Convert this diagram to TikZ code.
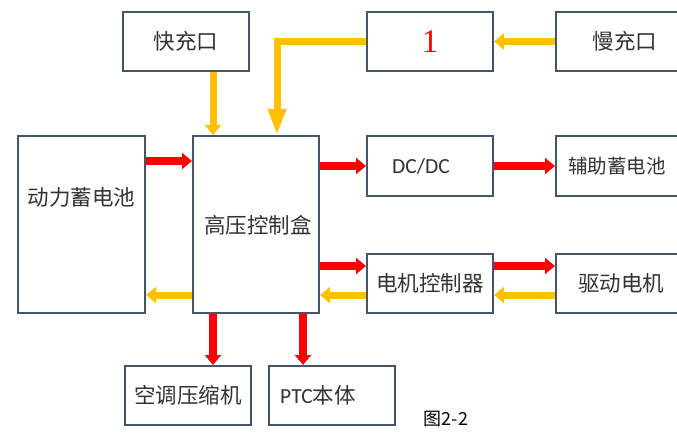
\documentclass[tikz,border=0pt]{standalone}
\usepackage{fontspec}
\setmainfont{Noto Sans CJK SC}
\newfontfamily\carl{Carlito}
\newfontfamily\lserif{Liberation Serif}
\usetikzlibrary{arrows.meta}
\definecolor{boxline}{HTML}{44546A}
\definecolor{txt}{HTML}{333333}
\definecolor{yel}{HTML}{FFC000}
\definecolor{rd}{HTML}{FF0000}
\tikzset{
  blk/.style={draw=boxline, line width=2pt, fill=white, text=txt, inner sep=0pt,
    font=\fontsize{21.5}{24}\selectfont, minimum height=59pt},
  lbl/.style={text=txt, inner sep=0pt, font=\fontsize{21.5}{24}\selectfont},
  redarr/.style={draw=rd, line width=7.5pt, -{Triangle[length=10pt,width=16pt]}},
  yelarr/.style={draw=yel, line width=7pt, -{Triangle[length=10pt,width=16pt]}},
}
\begin{document}
\begin{tikzpicture}[x=1pt,y=-1pt]
\useasboundingbox[fill=white] (0,0) rectangle (677,433);
% boxes
\node[blk, minimum width=126pt] (kc) at (186,41.5) {快充口};
\node[blk, minimum width=126pt, text=rd, font=\lserif\fontsize{33}{34}\selectfont] (one) at (430,41.5) {1};
\node[blk, minimum width=140pt] (mc) at (626,41.5) {};
\node[lbl] (mct) at (625,41.5) {慢充口};
\node[blk, minimum width=127pt, minimum height=177pt] (bat) at (81.5,224.5) {};
\node[lbl] (batt) at (81.5,197) {动力蓄电池};
\node[blk, minimum width=126pt, minimum height=177pt] (hv) at (256,224.5) {};
\node[lbl] (hvt) at (258,225) {高压控制盒};
\node[blk, minimum width=126pt, minimum height=60pt] (dc) at (430,166) {};
\node[lbl, font=\carl\fontsize{21.5}{24}\selectfont] (dct) at (421,166) {DC/DC};
\node[blk, minimum width=140pt, minimum height=60pt] (aux) at (626,166) {};
\node[lbl, font=\fontsize{19.5}{22}\selectfont] (auxt) at (617,166) {辅助蓄电池};
\node[blk, minimum width=126pt] (mcu) at (430,283.5) {电机控制器};
\node[blk, minimum width=140pt] (mot) at (626,283.5) {};
\node[lbl] (mott) at (621,283.5) {驱动电机};
\node[blk, minimum width=126pt] (ac) at (188,395.5) {空调压缩机};
\node[blk, minimum width=126pt] (ptc) at (332,395.5) {};
\node[lbl] (ptct) at (318,395.5) {{\carl PTC}本体};
\node[text=black, inner sep=0pt, font=\fontsize{18}{20}\selectfont] (cap) at (446,419) {图2-2};
% helper coordinates
\coordinate (r1) at (0,161);
\coordinate (r2) at (0,166);
\coordinate (r3) at (0,266);
\coordinate (r4) at (0,295);
\coordinate (c1) at (213,0);
\coordinate (c2) at (277,0);
\coordinate (c3) at (303,0);
% connectors
\draw[yelarr] (mc.west) -- (one.east);
\draw[draw=yel, line width=7pt, -{Triangle[length=26pt,width=17pt]}] (one.west) -| (hv.north -| c2);
\draw[yelarr] (kc.south -| c1) -- (hv.north -| c1);
\draw[redarr] (bat.east |- r1) -- (hv.west |- r1);
\draw[redarr] (hv.east |- r2) -- (dc.west |- r2);
\draw[redarr] (dc.east |- r2) -- (aux.west |- r2);
\draw[redarr] (hv.east |- r3) -- (mcu.west |- r3);
\draw[redarr] (mcu.east |- r3) -- (mot.west |- r3);
\draw[yelarr] (mot.west |- r4) -- (mcu.east |- r4);
\draw[yelarr] (mcu.west |- r4) -- (hv.east |- r4);
\draw[yelarr] (hv.west |- r4) -- (bat.east |- r4);
\draw[redarr] (hv.south -| c1) -- (ac.north -| c1);
\draw[redarr] (hv.south -| c3) -- (ptc.north -| c3);
\end{tikzpicture}
\end{document}
